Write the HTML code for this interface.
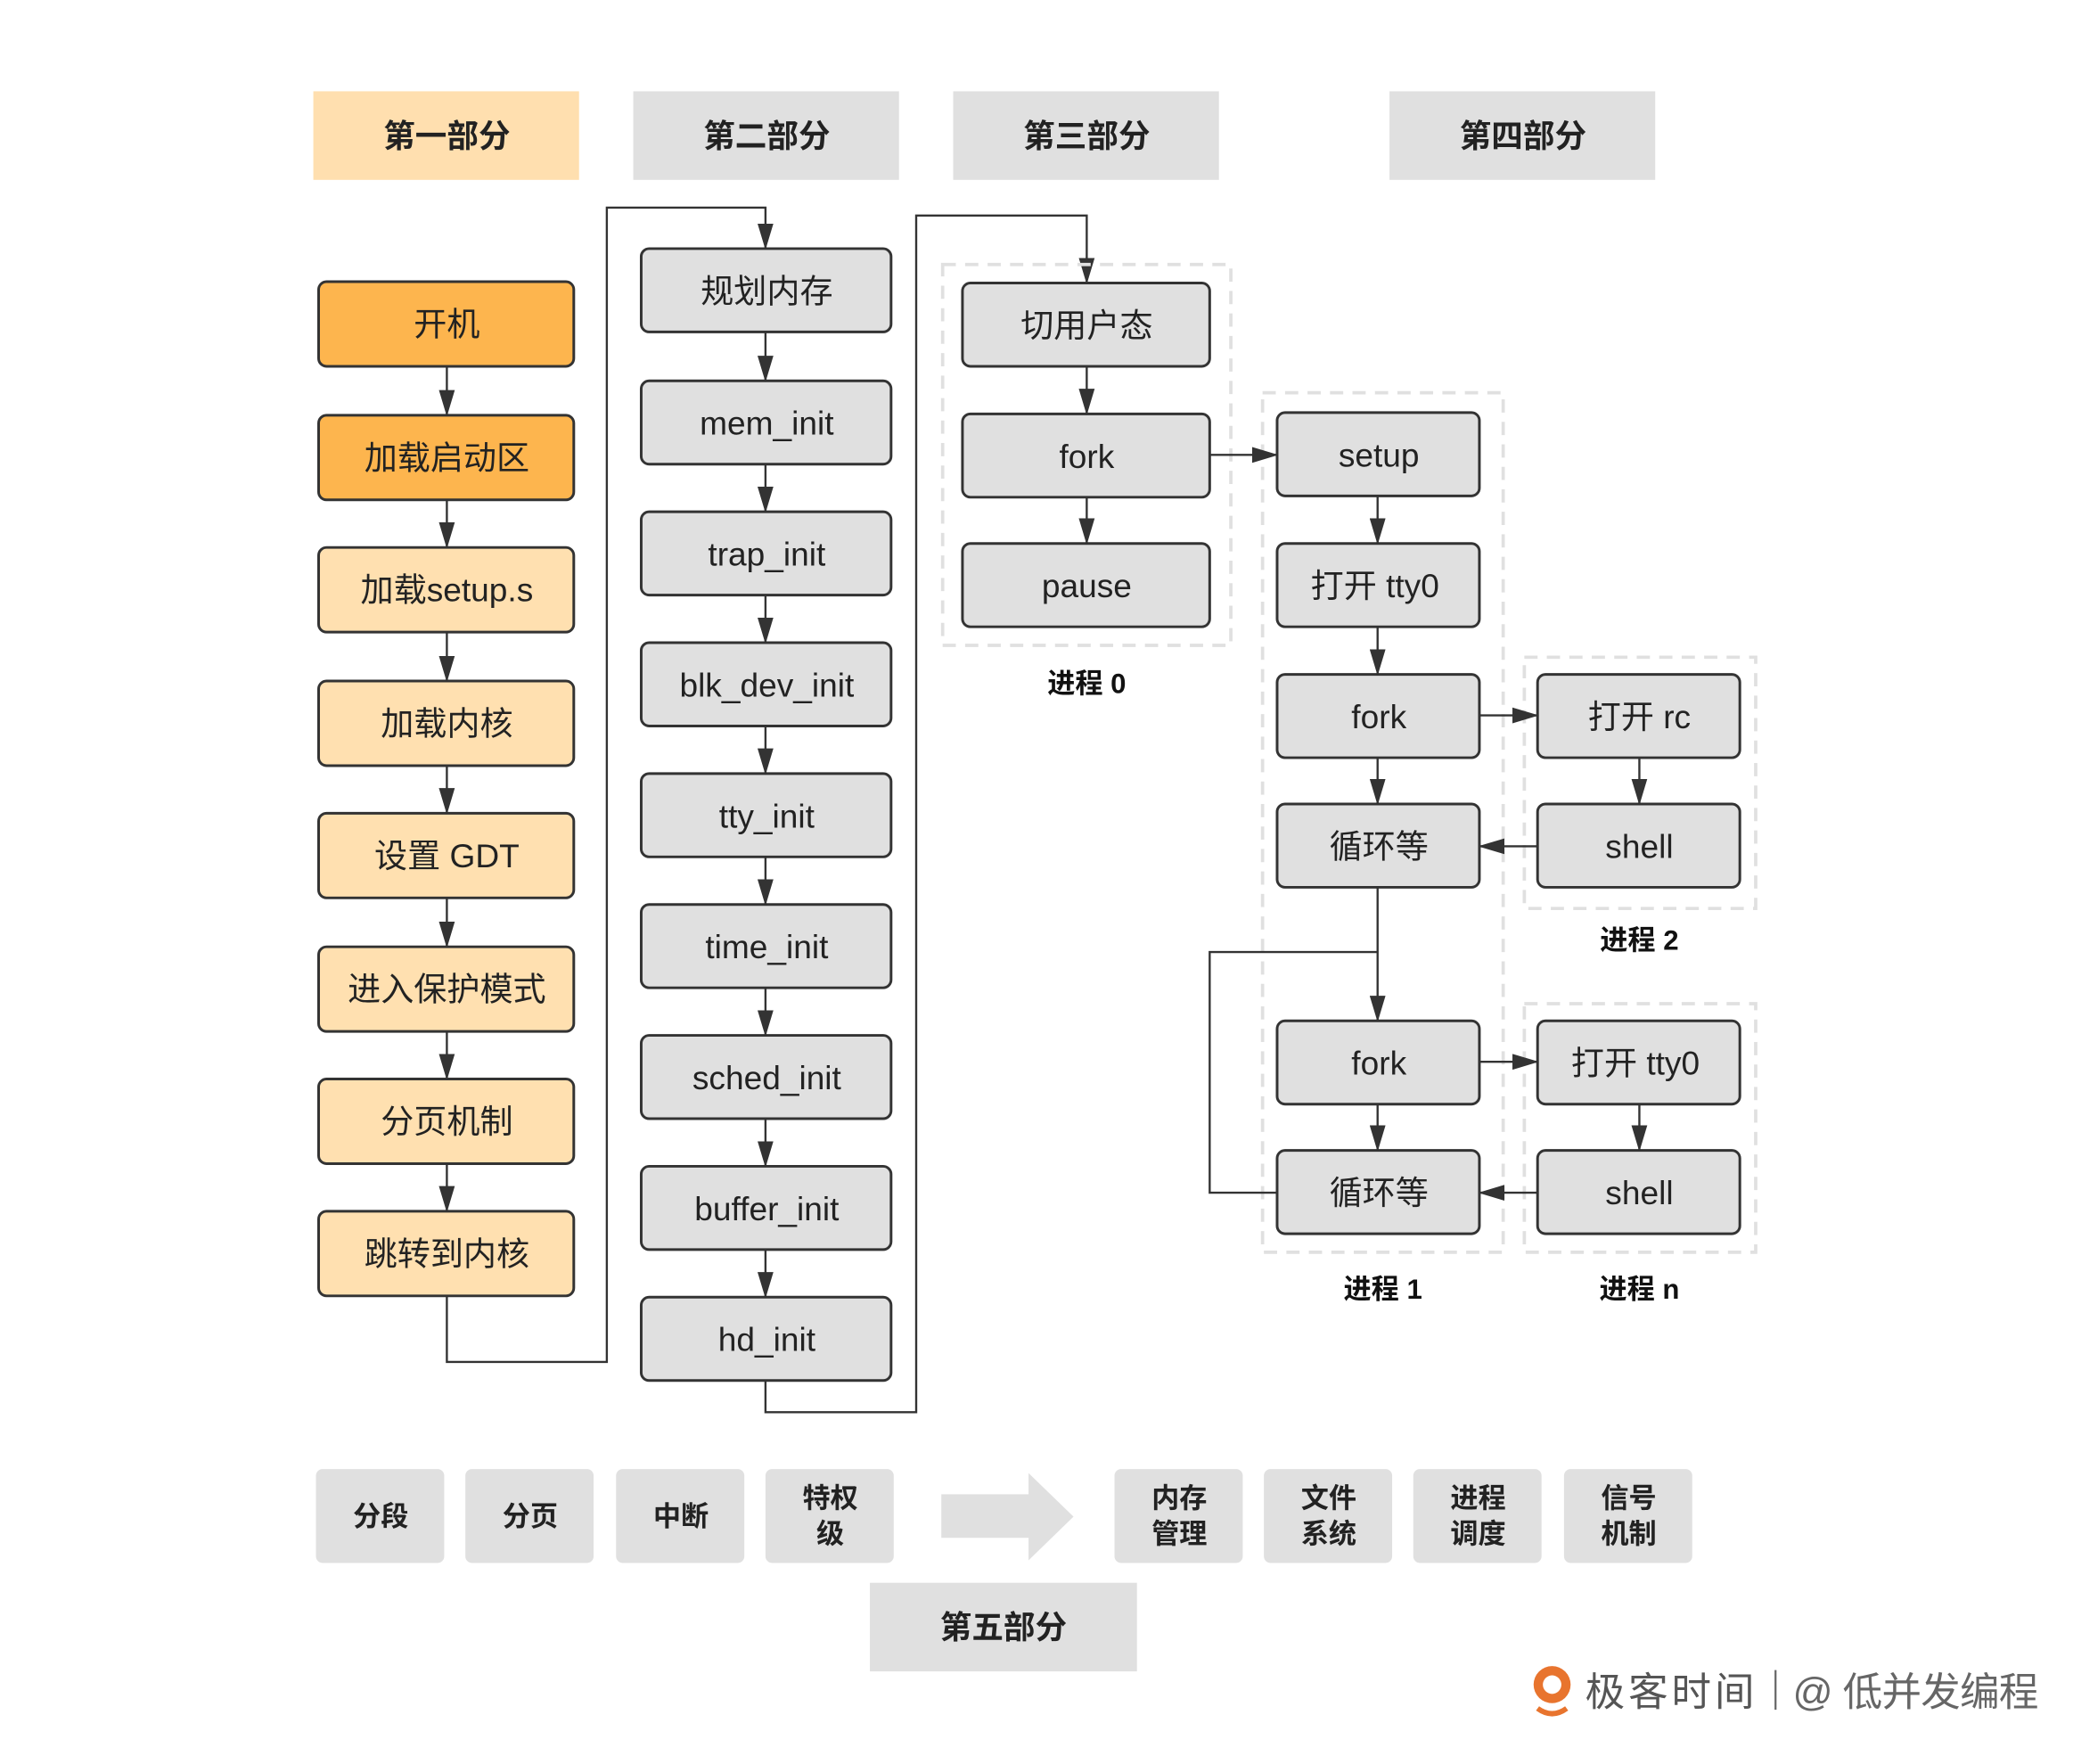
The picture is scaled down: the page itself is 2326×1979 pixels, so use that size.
<!DOCTYPE html>
<html><head><meta charset="utf-8"><style>
html,body{margin:0;padding:0;background:#fff;}
svg{display:block;}
text{font-family:"Liberation Sans","Noto Sans CJK SC",sans-serif;}
.n{font-size:25px;fill:#222;text-anchor:middle;dominant-baseline:central;}
.h{font-size:24px;font-weight:bold;fill:#222;text-anchor:middle;dominant-baseline:central;}
.s{font-size:21px;font-weight:bold;fill:#222;text-anchor:middle;dominant-baseline:central;}
.l{font-size:21px;font-weight:bold;fill:#111;text-anchor:middle;dominant-baseline:central;}
.g{fill:#e0e0e0;stroke:#333;stroke-width:2;}
.o{fill:#fdb54e;stroke:#333;stroke-width:2;}
.y{fill:#ffe0b0;stroke:#333;stroke-width:2;}
.d{fill:none;stroke:#e0e0e0;stroke-width:2.5;stroke-dasharray:10 7;}
.c{fill:none;stroke:#333;stroke-width:1.6;}
</style></head><body>
<svg width="2326" height="1979" viewBox="0 0 1568 1334" xmlns="http://www.w3.org/2000/svg">
<defs>
<marker id="a" viewBox="0 0 20 12" refX="19" refY="6" markerWidth="20" markerHeight="12" markerUnits="userSpaceOnUse" orient="auto"><path d="M0,0 L20,6 L0,12 z" fill="#333"/></marker>
</defs>
<!-- headers -->
<rect x="237" y="69" width="201" height="67" fill="#ffdfaf"/><text class="h" x="338" y="103">第一部分</text>
<rect x="479" y="69" width="201" height="67" fill="#e0e0e0"/><text class="h" x="580" y="103">第二部分</text>
<rect x="721" y="69" width="201" height="67" fill="#e0e0e0"/><text class="h" x="822" y="103">第三部分</text>
<rect x="1051" y="69" width="201" height="67" fill="#e0e0e0"/><text class="h" x="1152" y="103">第四部分</text>

<!-- column 1 -->
<g>
<rect class="o" x="241" y="213" width="193" height="64" rx="6"/><text class="n" x="338" y="245">开机</text>
<rect class="o" x="241" y="314" width="193" height="64" rx="6"/><text class="n" x="338" y="346">加载启动区</text>
<rect class="y" x="241" y="414" width="193" height="64" rx="6"/><text class="n" x="338" y="446">加载setup.s</text>
<rect class="y" x="241" y="515" width="193" height="64" rx="6"/><text class="n" x="338" y="547">加载内核</text>
<rect class="y" x="241" y="615" width="193" height="64" rx="6"/><text class="n" x="338" y="647">设置 GDT</text>
<rect class="y" x="241" y="716" width="193" height="64" rx="6"/><text class="n" x="338" y="748">进入保护模式</text>
<rect class="y" x="241" y="816" width="193" height="64" rx="6"/><text class="n" x="338" y="848">分页机制</text>
<rect class="y" x="241" y="916" width="193" height="64" rx="6"/><text class="n" x="338" y="948">跳转到内核</text>
</g>
<g class="c" marker-end="url(#a)">
<line x1="338" y1="277" x2="338" y2="314"/>
<line x1="338" y1="378" x2="338" y2="414"/>
<line x1="338" y1="478" x2="338" y2="515"/>
<line x1="338" y1="579" x2="338" y2="615"/>
<line x1="338" y1="679" x2="338" y2="716"/>
<line x1="338" y1="780" x2="338" y2="816"/>
<line x1="338" y1="880" x2="338" y2="916"/>
<polyline points="338,980 338,1030 459,1030 459,157 579,157 579,188"/>
</g>

<!-- column 2 -->
<g>
<rect class="g" x="485" y="188" width="189" height="63" rx="6"/><text class="n" x="580" y="220">规划内存</text>
<rect class="g" x="485" y="288" width="189" height="63" rx="6"/><text class="n" x="580" y="320">mem_init</text>
<rect class="g" x="485" y="387" width="189" height="63" rx="6"/><text class="n" x="580" y="419">trap_init</text>
<rect class="g" x="485" y="486" width="189" height="63" rx="6"/><text class="n" x="580" y="518">blk_dev_init</text>
<rect class="g" x="485" y="585" width="189" height="63" rx="6"/><text class="n" x="580" y="617">tty_init</text>
<rect class="g" x="485" y="684" width="189" height="63" rx="6"/><text class="n" x="580" y="716">time_init</text>
<rect class="g" x="485" y="783" width="189" height="63" rx="6"/><text class="n" x="580" y="815">sched_init</text>
<rect class="g" x="485" y="882" width="189" height="63" rx="6"/><text class="n" x="580" y="914">buffer_init</text>
<rect class="g" x="485" y="981" width="189" height="63" rx="6"/><text class="n" x="580" y="1013">hd_init</text>
</g>
<g class="c" marker-end="url(#a)">
<line x1="579" y1="251" x2="579" y2="288"/>
<line x1="579" y1="351" x2="579" y2="387"/>
<line x1="579" y1="450" x2="579" y2="486"/>
<line x1="579" y1="549" x2="579" y2="585"/>
<line x1="579" y1="648" x2="579" y2="684"/>
<line x1="579" y1="747" x2="579" y2="783"/>
<line x1="579" y1="846" x2="579" y2="882"/>
<line x1="579" y1="945" x2="579" y2="981"/>
<polyline points="579,1044 579,1068 693,1068 693,163 822,163 822,214"/>
</g>

<!-- column 3 -->
<rect class="d" x="713" y="200" width="218" height="288"/>
<rect class="g" x="728" y="214" width="187" height="63" rx="6"/><text class="n" x="822" y="246">切用户态</text>
<rect class="g" x="728" y="313" width="187" height="63" rx="6"/><text class="n" x="822" y="345">fork</text>
<rect class="g" x="728" y="411" width="187" height="63" rx="6"/><text class="n" x="822" y="443">pause</text>
<text class="l" x="822" y="517">进程 0</text>

<!-- column 4 -->
<rect class="d" x="955" y="297" width="182" height="650"/>
<rect class="d" x="1153" y="497" width="175" height="190"/>
<rect class="d" x="1153" y="759" width="175" height="188"/>
<rect class="g" x="966" y="312" width="153" height="63" rx="6"/><text class="n" x="1043" y="344">setup</text>
<rect class="g" x="966" y="411" width="153" height="63" rx="6"/><text class="n" x="1040" y="443">打开 tty0</text>
<rect class="g" x="966" y="510" width="153" height="63" rx="6"/><text class="n" x="1043" y="542">fork</text>
<rect class="g" x="966" y="608" width="153" height="63" rx="6"/><text class="n" x="1043" y="640">循环等</text>
<rect class="g" x="966" y="772" width="153" height="63" rx="6"/><text class="n" x="1043" y="804">fork</text>
<rect class="g" x="966" y="870" width="153" height="63" rx="6"/><text class="n" x="1043" y="902">循环等</text>
<rect class="g" x="1163" y="510" width="153" height="63" rx="6"/><text class="n" x="1240" y="542">打开 rc</text>
<rect class="g" x="1163" y="608" width="153" height="63" rx="6"/><text class="n" x="1240" y="640">shell</text>
<rect class="g" x="1163" y="772" width="153" height="63" rx="6"/><text class="n" x="1237" y="804">打开 tty0</text>
<rect class="g" x="1163" y="870" width="153" height="63" rx="6"/><text class="n" x="1240" y="902">shell</text>
<text class="l" x="1240" y="711">进程 2</text>
<text class="l" x="1046" y="975">进程 1</text>
<text class="l" x="1240" y="975">进程 n</text>

<g class="c" marker-end="url(#a)">
<line x1="822" y1="277" x2="822" y2="313"/>
<line x1="822" y1="376" x2="822" y2="411"/>
<line x1="915" y1="344" x2="966" y2="344"/>
<line x1="1042" y1="375" x2="1042" y2="411"/>
<line x1="1042" y1="474" x2="1042" y2="510"/>
<line x1="1042" y1="573" x2="1042" y2="608"/>
<line x1="1119" y1="541" x2="1163" y2="541"/>
<line x1="1240" y1="573" x2="1240" y2="608"/>
<line x1="1163" y1="640" x2="1119" y2="640"/>
<line x1="1042" y1="671" x2="1042" y2="772"/>
<line x1="1042" y1="835" x2="1042" y2="870"/>
<line x1="1119" y1="803" x2="1163" y2="803"/>
<line x1="1240" y1="835" x2="1240" y2="870"/>
<line x1="1163" y1="902" x2="1119" y2="902"/>
</g>
<polyline class="c" points="966,902 915,902 915,720 1042,720"/>

<!-- bottom row -->
<rect x="239" y="1111" width="97" height="71" rx="5" fill="#e0e0e0"/><text class="s" x="288" y="1147">分段</text>
<rect x="352" y="1111" width="97" height="71" rx="5" fill="#e0e0e0"/><text class="s" x="401" y="1147">分页</text>
<rect x="466" y="1111" width="97" height="71" rx="5" fill="#e0e0e0"/><text class="s" x="515" y="1147">中断</text>
<rect x="579" y="1111" width="97" height="71" rx="5" fill="#e0e0e0"/><text class="s" x="628" y="1133">特权</text><text class="s" x="628" y="1160">级</text>
<path d="M712,1130 L778,1130 L778,1114 L812,1147 L778,1180 L778,1163 L712,1163 z" fill="#e0e0e0"/>
<rect x="843" y="1111" width="97" height="71" rx="5" fill="#e0e0e0"/><text class="s" x="892" y="1133">内存</text><text class="s" x="892" y="1160">管理</text>
<rect x="956" y="1111" width="97" height="71" rx="5" fill="#e0e0e0"/><text class="s" x="1005" y="1133">文件</text><text class="s" x="1005" y="1160">系统</text>
<rect x="1069" y="1111" width="97" height="71" rx="5" fill="#e0e0e0"/><text class="s" x="1118" y="1133">进程</text><text class="s" x="1118" y="1160">调度</text>
<rect x="1183" y="1111" width="97" height="71" rx="5" fill="#e0e0e0"/><text class="s" x="1232" y="1133">信号</text><text class="s" x="1232" y="1160">机制</text>
<rect x="658" y="1197" width="202" height="67" fill="#e0e0e0"/><text class="h" x="759" y="1231">第五部分</text>

<!-- logo -->
<circle cx="1174" cy="1274" r="14" fill="#e8742e"/>
<circle cx="1174" cy="1274" r="7" fill="#fff"/>
<path d="M1163,1292 Q1174,1300 1185,1292" fill="none" stroke="#e8742e" stroke-width="4"/>
<text x="1199" y="1290" style="font-size:30px;fill:#555;" textLength="128">极客时间</text>
<line x1="1343" y1="1263" x2="1343" y2="1293" stroke="#666" stroke-width="1.5"/>
<text x="1356" y="1290" style="font-size:30px;fill:#666;" textLength="186">@ 低并发编程</text>
</svg>
</body></html>
